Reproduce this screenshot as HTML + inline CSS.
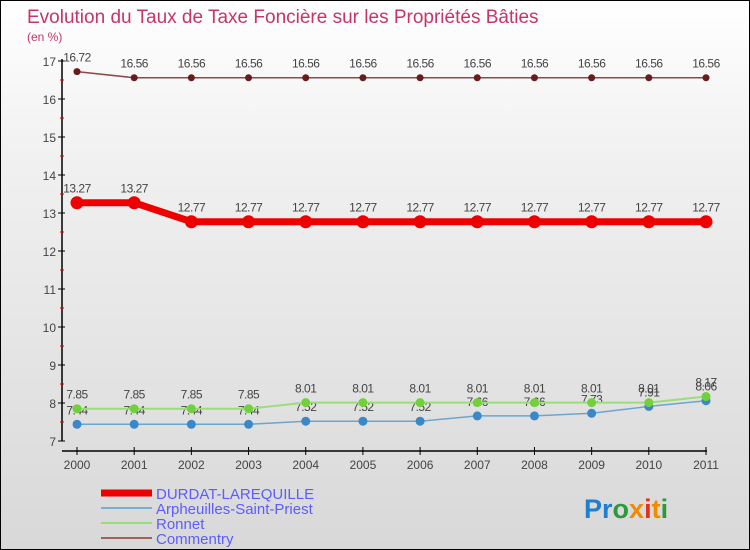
<!DOCTYPE html>
<html><head><meta charset="utf-8"><style>
body{margin:0}
#c{width:750px;height:550px;position:relative;box-sizing:border-box;border:1px solid #000;background:linear-gradient(#fff,#f0f0f0 30%,#d8d8d8);font-family:"Liberation Sans",sans-serif;overflow:hidden}
svg text{font-family:"Liberation Sans",sans-serif}
</style></head><body>
<div id="c">
<svg width="750" height="550" id="s">
<text x="26" y="22" font-size="19" fill="#c8336a">Evolution du Taux de Taxe Foncière sur les Propriétés Bâties</text>
<text x="26" y="40" font-size="12" fill="#c8336a">(en %)</text>
<g id="axes"></g><g id="series"></g><g id="legend"></g>
<text x="583" y="517" font-size="27" font-weight="bold"><tspan fill="#1e7fd0">Pr</tspan><tspan fill="#2a9a3a">o</tspan><tspan fill="#f08a00">x</tspan><tspan fill="#e03020">i</tspan><tspan fill="#f08a00">t</tspan><tspan fill="#2a9a3a">i</tspan></text>
</svg></div>
<script>
const years=[2000,2001,2002,2003,2004,2005,2006,2007,2008,2009,2010,2011];
const durdat=[13.27,13.27,12.77,12.77,12.77,12.77,12.77,12.77,12.77,12.77,12.77,12.77];
const arpheuilles=[7.44,7.44,7.44,7.44,7.52,7.52,7.52,7.66,7.66,7.73,7.91,8.06];
const ronnet=[7.85,7.85,7.85,7.85,8.01,8.01,8.01,8.01,8.01,8.01,8.01,8.17];
const commentry=[16.72,16.56,16.56,16.56,16.56,16.56,16.56,16.56,16.56,16.56,16.56,16.56];
const yTicks=[7,8,9,10,11,12,13,14,15,16,17];
const NS="http://www.w3.org/2000/svg";
const xs=i=>76+i*(629/(years.length-1));
const ys=v=>440-(v-7)*38;
function el(t,a,p){const e=document.createElementNS(NS,t);for(const k in a)e.setAttribute(k,a[k]);p.appendChild(e);return e;}
const ax=document.getElementById('axes');
let l=el('line',{x1:61,y1:58,x2:61,y2:440,stroke:'#000','stroke-width':1.5},ax);


l=el('line',{x1:61,y1:450,x2:706,y2:450,stroke:'#000','stroke-width':1.5},ax);


yTicks.forEach(v=>{
 el('line',{x1:57,x2:64,y1:ys(v),y2:ys(v),stroke:'#000'},ax);
 if(v<17) el('line',{x1:59,x2:63,y1:ys(v+0.5),y2:ys(v+0.5),stroke:'#d00'},ax);
 const t=el('text',{x:55,y:ys(v)+5,'text-anchor':'end','font-size':12,fill:'#444'},ax);t.textContent=v;
 
 
});
years.forEach((y,i)=>{
 el('line',{x1:xs(i),x2:xs(i),y1:446,y2:454,stroke:'#000'},ax);
 const t=el('text',{x:xs(i),y:468,'text-anchor':'middle','font-size':12,fill:'#444'},ax);t.textContent=y;
 
 
});
const sg=document.getElementById('series');
function series(data,color,w,r,name,dot){
 const g=el('g',{},sg);
 
 
 const pl=el('polyline',{points:data.map((v,i)=>xs(i)+','+ys(v)).join(' '),fill:'none',stroke:color,'stroke-width':w},g);
 
 
 data.forEach((v,i)=>{
  const c=el('circle',{cx:xs(i),cy:ys(v),r:r,fill:dot},g);
  
  
  const t=el('text',{x:xs(i),y:ys(v)-10,'text-anchor':'middle','font-size':12,'letter-spacing':'-0.5',fill:'#444'},g);t.textContent=v;
  
  
 });
}
series(commentry,'#8b4a4a',1.5,3.5,'commentry','#6a1c1c');
series(arpheuilles,'#6aa6d0',1.5,4.5,'arpheuilles','#3a88c8');
series(ronnet,'#9ade78',2,4.5,'ronnet','#72d03a');
series(durdat,'#ee0000',7,6.5,'durdat','#ee0000');
const lg=document.getElementById('legend');
[['DURDAT-LAREQUILLE','#ee0000',7],['Arpheuilles-Saint-Priest','#7aaed0',2],['Ronnet','#9ade78',2],['Commentry','#a06060',2]].forEach((d,i)=>{
 const y=492+i*15;
 const ln=el('line',{x1:100,x2:151,y1:y,y2:y,stroke:d[1],'stroke-width':d[2]},lg);
 
 
 const t=el('text',{x:155,y:y+6,'font-size':15,fill:'#5c5cff'},lg);t.textContent=d[0];
 
 
});
</script>
</body></html>
